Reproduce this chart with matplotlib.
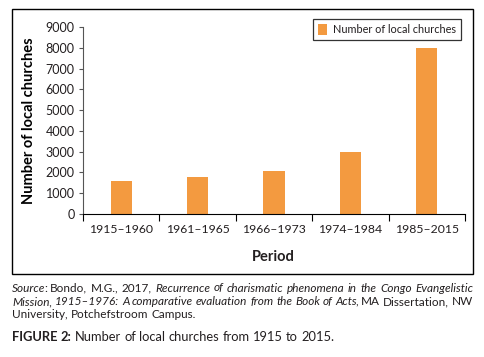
import matplotlib
matplotlib.use("Agg")
import matplotlib.pyplot as plt
from matplotlib.patches import Rectangle

# data
periods = ["1915\u20131960", "1961\u20131965", "1966\u20131973", "1974\u20131984", "1985\u20132015"]
churches = [1570, 1780, 2080, 2980, 7980]
y_ticks = [0, 1000, 2000, 3000, 4000, 5000, 6000, 7000, 8000, 9000]

BAR = "#F39A40"
TXT = "#231F20"
FONT = ["Lato", "DejaVu Sans"]

plt.rcParams["font.family"] = FONT
plt.rcParams["text.color"] = TXT

W, H = 484, 357
fig = plt.figure(figsize=(W / 100, H / 100), dpi=100)


def fx(px):
    return px / W


def fy(py):
    return 1 - py / H


# outer frame around the chart
fig.patches.append(Rectangle((fx(12), fy(274)), fx(473) - fx(12), fy(9) - fy(274),
                             transform=fig.transFigure, fill=False, lw=1.0, ec="black"))

ax = fig.add_axes([fx(83), fy(214), fx(465) - fx(83), fy(27) - fy(214)])
x = range(len(periods))
ax.bar(x, churches, width=0.28, color=BAR, label="Number of local churches")

ax.set_xlim(-0.5, len(periods) - 0.5)
ax.set_ylim(0, 9000)
ax.set_yticks(y_ticks)
ax.set_yticklabels([str(v) for v in y_ticks])
ax.set_xticks(list(x))
ax.set_xticklabels(periods)
ax.set_xticks([i - 0.5 for i in range(len(periods) + 1)], minor=True)
ax.tick_params(axis="x", which="major", length=0, pad=7, labelsize=8.8, labelcolor=TXT)
ax.tick_params(axis="x", which="minor", length=5, width=0.8, color="black", direction="out")
ax.tick_params(axis="y", length=3, width=0.8, color="#555555", pad=3, labelsize=9, labelcolor=TXT)

for s in ["top", "right"]:
    ax.spines[s].set_visible(False)
ax.spines["left"].set_color("#555555")
ax.spines["bottom"].set_color("black")
ax.spines["left"].set_linewidth(0.8)
ax.spines["bottom"].set_linewidth(0.8)

ax.set_ylabel("Number of local churches", fontsize=10.5, fontweight="bold", labelpad=7)
fig.text(fx(273), fy(257), "Period", ha="center", va="center", fontsize=10.5, fontweight="bold")

leg = ax.legend(loc="upper right", bbox_to_anchor=(1.003, 1.07), fontsize=7.8, frameon=True,
                fancybox=False, edgecolor="black", handlelength=0.9, handleheight=1.2,
                borderpad=0.45, handletextpad=0.5)
leg.get_frame().set_linewidth(0.9)

# source note and caption, laid out word by word (justified like the original)
renderer = fig.canvas.get_renderer()


def measure(txt, style, weight, size):
    t = fig.text(0, 0, txt, fontsize=size, style=style, fontweight=weight)
    w = t.get_window_extent(renderer).width
    t.remove()
    return w


def draw_line(y_base, tokens, size, x0=12, x1=None):
    # tokens: list of words, each a list of (text, style, weight) pieces
    widths = []
    for tok in tokens:
        ws = [measure(p, s, w, size) for p, s, w in tok]
        # italic extents run a bit long before an upright piece
        for i in range(len(tok) - 1):
            if tok[i][1] != tok[i + 1][1]:
                ws[i] -= 1.5
        widths.append(ws)
    tok_w = [sum(ws) for ws in widths]
    gap = measure("a a", "normal", "normal", size) - measure("aa", "normal", "normal", size)
    if x1 is not None and len(tokens) > 1:
        gap = (x1 - x0 - sum(tok_w)) / (len(tokens) - 1)
    xpos = x0
    for tok, ws in zip(tokens, widths):
        xp = xpos
        for (p, s, w), pw in zip(tok, ws):
            fig.text(xp / W, fy(y_base), p, fontsize=size, style=s, fontweight=w,
                     va="baseline", ha="left")
            xp += pw
        xpos += sum(ws) + gap


def words(txt, style="normal", weight="normal"):
    return [[(wd, style, weight)] for wd in txt.split()]


src = 8.5
line1 = [[("Source", "italic", "normal"), (":", "normal", "normal")]]
line1 += words("Bondo, M.G., 2017,")
line1 += words("Recurrence of charismatic phenomena in the Congo Evangelistic", "italic")
line2 = words("Mission, 1915\u20131976: A comparative evaluation from the Book of", "italic")
line2 += [[("Acts", "italic", "normal"), (",", "normal", "normal")]]
line2 += words("MA Dissertation, NW")
draw_line(291.5, line1, src, x1=473)
draw_line(305, line2, src, x1=473)
draw_line(318.5, words("University, Potchefstroom Campus."), src)
draw_line(341, [[("FIGURE", "normal", "bold")], [("2:", "normal", "bold")]]
          + words("Number of local churches from 1915 to 2015."), 9.3)

fig.savefig("out.png", dpi=100)
